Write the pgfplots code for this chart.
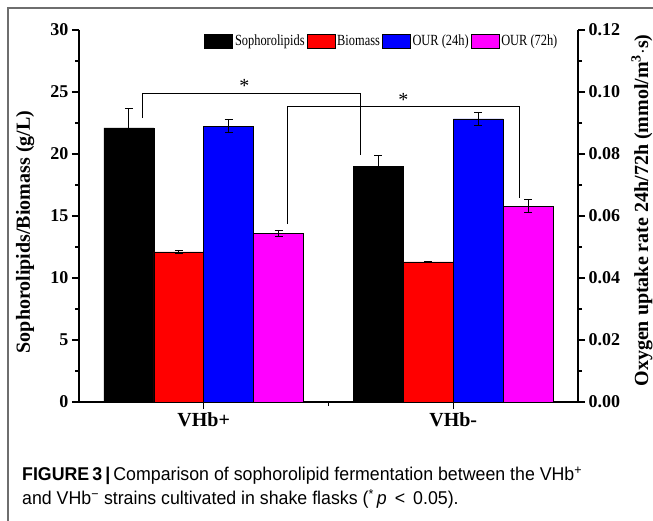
\documentclass[border=0pt]{standalone}
\usepackage{pgfplots}
\pgfplotsset{compat=1.18}
\usepackage{fontspec}
\setmainfont{Liberation Serif}
\newfontfamily\capfont[FakeStretch=0.96]{Liberation Sans}
\newfontfamily\legfont[FakeStretch=0.8]{Liberation Serif}

\definecolor{framegray}{HTML}{6E6E6E}
\definecolor{mag}{HTML}{FF00FF}
\definecolor{bl}{HTML}{0000FF}
\definecolor{rd}{HTML}{FF0000}

\pgfplotsset{
  common/.style={
    at={(79bp,119bp)}, anchor=south west,
    scale only axis, width=499bp, height=372bp,
    xmin=-0.5, xmax=1.5,
    tick align=outside,
    major tick length=7bp, minor tick length=4bp,
    every tick/.style={black, line width=1.2bp},
    every minor tick/.style={black, line width=1.2bp},
    axis line style={line width=1.4bp},
    ticklabel style={font=\fontsize{18bp}{20bp}\selectfont\bfseries},
    xticklabel style={font=\fontsize{20bp}{22bp}\selectfont\bfseries},
    /pgf/number format/assume math mode=true,
    label style={font=\fontsize{20bp}{22bp}\selectfont\bfseries, inner sep=0pt},
    clip=false,
  },
  bars/.style={ybar, bar width=0.2, bar shift=0pt, draw=black, line width=0.6bp,
    error bars/y dir=both, error bars/y explicit,
    error bars/error bar style={black, line width=0.9bp},
    error bars/error mark options={rotate=90, mark size=4bp, black, line width=0.9bp}},
}

\begin{document}
\begin{tikzpicture}[x=1bp, y=1bp]
\fill[white] (0,0) rectangle (653,521);
% outer frame of the figure panel
\fill[framegray] (7,0) rectangle (9,514);
\fill[framegray] (7,512) rectangle (653,514);

% left axis: sophorolipids and biomass (g/L)
\begin{axis}[common,
  ymin=0, ymax=30,
  axis x line*=bottom, axis y line*=left,
  xtick={0,1}, xticklabels={VHb+,VHb-}, minor xtick={0.5},
  ytick={0,5,10,15,20,25,30}, minor ytick={2.5,7.5,12.5,17.5,22.5,27.5},
  ylabel={Sophorolipids/Biomass (g/L)},
  ylabel style={at={(axis description cs:-0.108,0.457)}, anchor=center},
]
\addplot[bars, fill=black] coordinates {(-0.3,22.1) +- (0,1.6) (0.7,19.0) +- (0,0.85)};
\addplot[bars, fill=rd] coordinates {(-0.1,12.1) +- (0,0.1) (0.9,11.3) +- (0,0)};
% significance brackets
\addplot[black, line width=1bp, sharp plot, no marks] coordinates {(-0.247,22.9) (-0.247,24.9) (0.629,24.9) (0.629,19.9)};
\addplot[black, line width=1bp, sharp plot, no marks] coordinates {(0.335,14.35) (0.335,23.8) (1.267,23.8) (1.267,16.45)};
\node[font=\fontsize{20bp}{20bp}\selectfont] at (axis cs:0.163,25.5) {*};
\node[font=\fontsize{20bp}{20bp}\selectfont] at (axis cs:0.80,24.35) {*};
\end{axis}

% right axis: oxygen uptake rate
\begin{axis}[common,
  ymin=0, ymax=0.12,
  axis x line=none, axis y line*=right,
  ytick={0,0.02,0.04,0.06,0.08,0.10,0.12},
  minor ytick={0.01,0.03,0.05,0.07,0.09,0.11},
  yticklabel style={/pgf/number format/.cd, fixed, fixed zerofill, precision=2},
  ylabel={Oxygen uptake rate 24h/72h (mmol/m\textsuperscript{3}$\cdot$s)},
  ylabel style={at={(axis description cs:1.128,0.515)}, anchor=center},
  legend columns=4,
  legend style={at={(axis description cs:0.607,0.970)}, anchor=center, draw=none, fill=none,
    font=\legfont\fontsize{15.5bp}{16bp}\selectfont, column sep=0bp,
    nodes={inner sep=2bp}},
  legend image code/.code={\draw[#1, line width=0.6bp] (0bp,-7bp) rectangle (28bp,7bp);},
]
\addlegendimage{fill=black, draw=black}
\addlegendentry{Sophorolipids}
\addlegendimage{fill=rd, draw=black}
\addlegendentry{Biomass}
\addplot[bars, fill=bl] coordinates {(0.1,0.0890) +- (0,0.0020) (1.1,0.0913) +- (0,0.0020)};
\addlegendentry{OUR (24h)}
\addplot[bars, fill=mag] coordinates {(0.3,0.0544) +- (0,0.0009) (1.3,0.0632) +- (0,0.0020)};
\addlegendentry{OUR (72h)}
\end{axis}

\node[anchor=base west, inner sep=0pt, font=\capfont\fontsize{18.5bp}{22bp}\selectfont] at (22,40)
  {\textbf{FIGURE\,3\,|}\,Comparison of sophorolipid fermentation between the VHb\textsuperscript{+}};
\node[anchor=base west, inner sep=0pt, font=\capfont\fontsize{18.5bp}{22bp}\selectfont] at (22,16)
  {and VHb\textsuperscript{\textminus} strains cultivated in shake flasks (\textsuperscript{*}\,\textit{p} \,<\, 0.05).};

\pgfresetboundingbox
\useasboundingbox (0,0) rectangle (653,521);
\end{tikzpicture}
\end{document}
